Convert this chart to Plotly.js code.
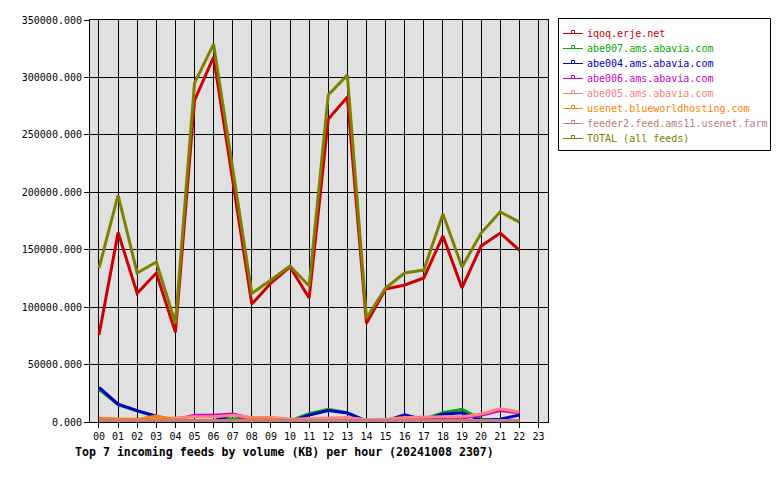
<!DOCTYPE html>
<html>
<head>
<meta charset="utf-8">
<script src="https://cdn.plot.ly/plotly-3.0.1.min.js"></script>
<style>html,body{margin:0;padding:0;background:#fff;}#chart{width:780px;height:480px;}</style>
</head>
<body>
<div id="chart"></div>
<script>
const hours = [0,1,2,3,4,5,6,7,8,9,10,11,12,13,14,15,16,17,18,19,20,21,22];
const hourLabels = ['00','01','02','03','04','05','06','07','08','09','10','11','12','13','14','15','16','17','18','19','20','21','22','23'];
const feedNames = ['iqoq.erje.net','abe007.ams.abavia.com','abe004.ams.abavia.com','abe006.ams.abavia.com','abe005.ams.abavia.com','usenet.blueworldhosting.com','feeder2.feed.ams11.usenet.farm','TOTAL (all feeds)'];
const feedColors = ['#cc0000','#00aa00','#0000cc','#cc00cc','#ff8080','#ff8000','#c08080','#808000'];

const iqoq   = [75700,165000,112000,129700,78000,280000,317800,212000,102700,121000,135000,108000,263800,283000,86000,115800,119300,125400,162000,116700,153200,164500,149700];
const abe007 = [28500,15000,9500,4800,1000,800,1000,2800,800,800,1000,7200,11000,8200,800,1000,5000,2500,8000,11000,2500,1000,1000];
const abe004 = [30200,15500,9900,5000,1000,800,1000,6500,1000,800,800,6000,9900,7800,800,1000,6200,2000,6800,8100,1500,2500,6000];
const abe006 = [2900,2000,1500,1800,2000,5800,5800,7000,3000,2500,1500,2500,2500,2500,1200,1500,3000,3500,3500,3500,5800,9900,8100];
const abe005 = [1500,1500,1500,2500,3500,4600,4600,5800,4000,4000,2500,3000,4000,4000,2000,2500,4000,4600,4600,4600,7000,11600,8700];
const bluew  = [2900,2900,2300,5200,2000,1000,1000,1000,2500,2500,800,800,800,800,800,800,800,800,800,800,800,800,800];
const feeder2= [1200,1200,1200,1200,1200,1200,1200,1200,1200,1200,1200,1200,1200,1200,1200,1200,1200,1200,1200,1200,1200,1200,1200];
const total  = [134000,197600,129700,139300,86000,295000,329000,222000,112000,123600,135800,118400,284700,302000,90500,116700,129700,132300,181000,135000,164500,183000,174000];

const series = [iqoq, abe007, abe004, abe006, abe005, bluew, feeder2, total];
const mono = 'DejaVu Sans Mono, monospace';

// plot area geometry in pixels (for placing the legend box in paper coords)
const PL = 90, PR = 548, PT = 20, PB = 422;
const px = v => (v - PL) / (PR - PL);
const py = v => (PB - v) / (PB - PT);

const traces = series.map((ys, i) => ({
  type: 'scatter',
  mode: 'lines',
  x: hours,
  y: ys,
  name: feedNames[i],
  line: {color: feedColors[i], width: 3},
  showlegend: false
}));

const shapes = [{
  type: 'rect', xref: 'paper', yref: 'paper',
  x0: px(558.5), x1: px(770.5), y0: py(18.5), y1: py(150.5),
  line: {color: '#000', width: 1}, fillcolor: '#fff', layer: 'above'
}];
const annotations = [];
feedNames.forEach((nm, i) => {
  const yc = 33 + 15 * i;
  shapes.push({type: 'line', xref: 'paper', yref: 'paper',
    x0: px(563), x1: px(583), y0: py(yc + 0.5), y1: py(yc + 0.5),
    line: {color: feedColors[i], width: 1}, layer: 'above'});
  shapes.push({type: 'rect', xref: 'paper', yref: 'paper',
    x0: px(571.5), x1: px(574.5), y0: py(yc + 0.5), y1: py(yc - 2.5),
    line: {color: feedColors[i], width: 1}, fillcolor: '#fff', layer: 'above'});
  annotations.push({xref: 'paper', yref: 'paper', x: px(585), y: py(yc),
    xanchor: 'left', yanchor: 'middle', showarrow: false, text: nm,
    font: {family: mono, size: 10, color: feedColors[i]}});
});

const layout = {
  width: 780, height: 480,
  margin: {l: 90, r: 232, t: 20, b: 58, autoexpand: false},
  paper_bgcolor: '#ffffff',
  plot_bgcolor: '#e0e0e0',
  font: {family: mono, size: 10, color: '#000'},
  showlegend: false,
  title: {
    text: '<b>Top 7 incoming feeds by volume (KB) per hour (20241008 2307)</b>',
    x: 75/780, xanchor: 'left', xref: 'container',
    y: 1 - 452/480, yanchor: 'middle', yref: 'container',
    font: {family: mono, size: 11.6, color: '#000'}
  },
  xaxis: {
    range: [-0.47, 23.5],
    tickmode: 'array',
    tickvals: hourLabels.map((_, i) => i),
    ticktext: hourLabels,
    showgrid: true, gridcolor: '#000', gridwidth: 1,
    zeroline: false,
    showline: true, linecolor: '#000', linewidth: 1, mirror: true,
    ticks: 'outside', ticklen: 5, tickcolor: '#000',
    tickfont: {family: mono, size: 10, color: '#000'}
  },
  yaxis: {
    range: [0, 350000],
    dtick: 50000, tick0: 0,
    tickformat: '.3f',
    showgrid: true, gridcolor: '#000', gridwidth: 1,
    zeroline: false,
    showline: true, linecolor: '#000', linewidth: 1, mirror: true,
    ticks: 'outside', ticklen: 5, tickcolor: '#000',
    tickfont: {family: mono, size: 10, color: '#000'}
  },
  shapes: shapes,
  annotations: annotations
};

Plotly.newPlot('chart', traces, layout, {displayModeBar: false, staticPlot: true});
</script>
</body>
</html>
